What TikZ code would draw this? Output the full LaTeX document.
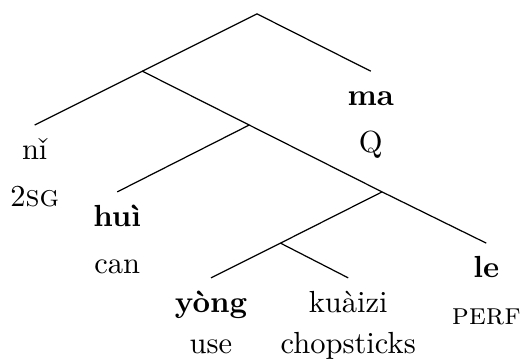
\documentclass[tikz,border=0pt]{standalone}
\usetikzlibrary{positioning}

\tikzset{
  word/.style={anchor=north,inner sep=0pt,text height=0.39cm},
  gloss/.style={anchor=base,inner sep=0pt}
}

\begin{document}
\begin{tikzpicture}
        \useasboundingbox (0,0) rectangle (6,-4.19);
        \coordinate (root) at (2.96,-0.16);
        \coordinate (np) at (1.64,-0.82);
        \coordinate (vp) at (2.87,-1.44);
        \coordinate (asp) at (4.40,-2.21);
        \coordinate (v) at (3.23,-2.80);
        \node[word] (ma) at (4.27,-0.82) {\textbf{ma}};
        \node[word] (ni) at (0.40,-1.44) {nǐ};
        \node[word] (hui) at (1.35,-2.21) {\textbf{huì}};
        \node[word] (le) at (5.60,-2.80) {\textbf{le}};
        \node[word] (yong) at (2.43,-3.20) {\textbf{yòng}};
        \node[word] (kuaizi) at (4.01,-3.20) {kuàizi};
        \node[gloss] (maG) at (4.27,-1.76) {Q};
        \node[gloss] (niG) at (0.40,-2.38) {2\textsc{sg}};
        \node[gloss] (huiG) at (1.35,-3.15) {can};
        \node[gloss] (leG) at (5.60,-3.74) {\textsc{perf}};
        \node[gloss] (yongG) at (2.43,-4.07) {use};
        \node[gloss] (kuaiziG) at (4.01,-4.07) {chopsticks};
        \draw (np) -- (root) -- (ma.north);
        \draw (ni.north) -- (np) -- (vp) -- (asp) -- (le.north);
        \draw (vp) -- (hui.north);
        \draw (asp) -- (v) -- (yong.north);
        \draw (v) -- (kuaizi.north);
\end{tikzpicture}
\end{document}
